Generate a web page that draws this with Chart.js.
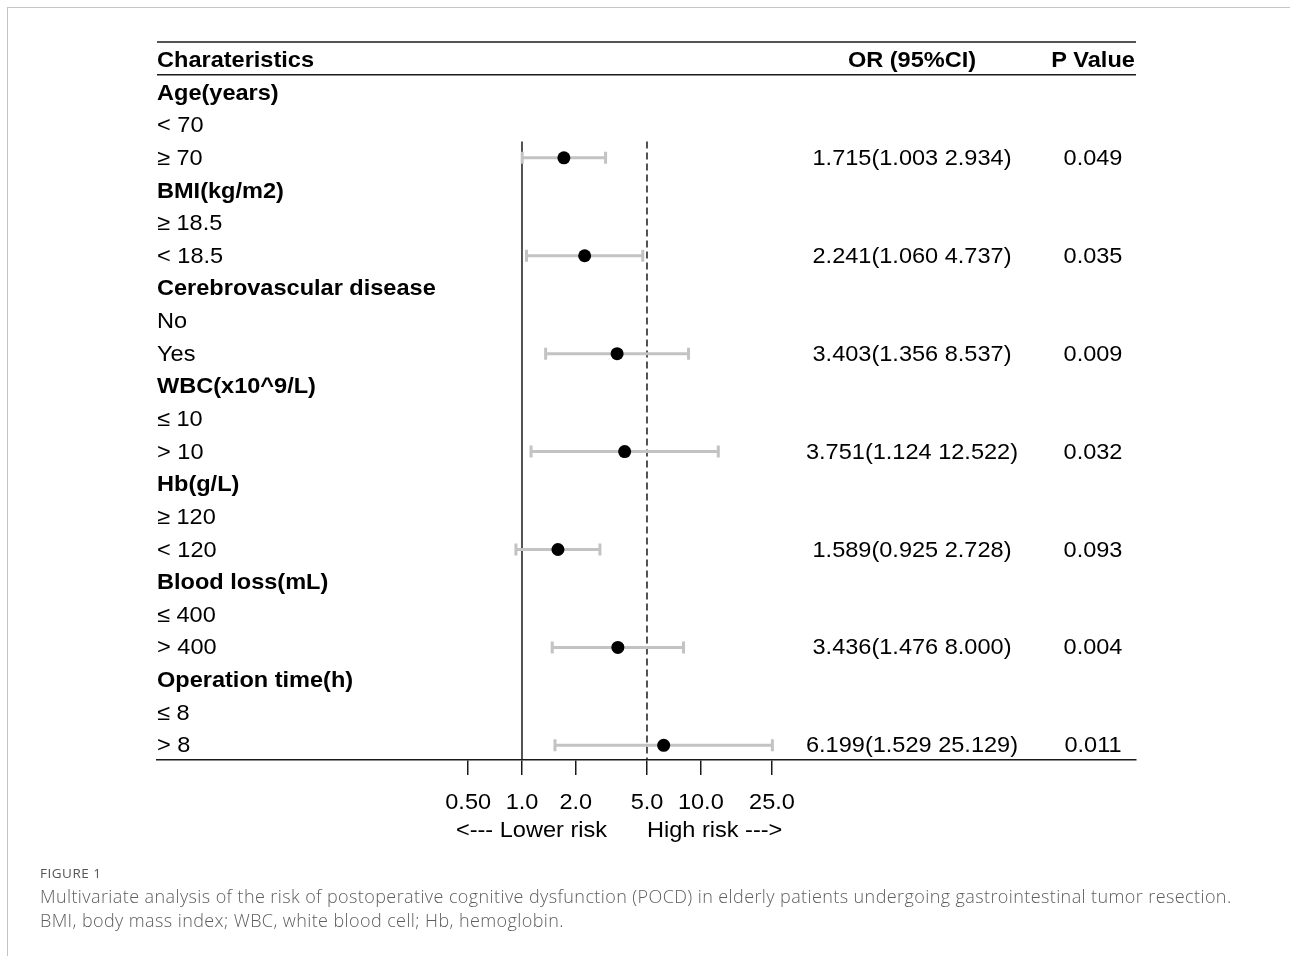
<!DOCTYPE html>
<html>
<head>
<meta charset="utf-8">
<script src="https://cdn.jsdelivr.net/npm/chart.js@4"></script>
<style>
  html, body { margin: 0; padding: 0; background: #fff; }
  #wrap { position: relative; width: 1290px; height: 956px; overflow: hidden; }
  #frame { position: absolute; left: 7px; top: 7px; right: -2px; bottom: -2px;
           border-top: 1.5px solid #c4c4c4; border-left: 1.5px solid #c4c4c4; }
  #chartBox { position: absolute; left: 0; top: 0; width: 1290px; height: 956px; }
  #caption { position: absolute; left: 40px; top: 864px; width: 1245px;
             font-family: "Open Sans", "Noto Sans", sans-serif; color: #5e5e5e; }
  #caption .fig { font-size: 13.5px; color: #555; letter-spacing: 0.5px; margin-bottom: 2px; }
  #caption .txt { font-size: 18px; line-height: 24px; font-weight: 300; letter-spacing: 0.4px; }
</style>
</head>
<body>
<div id="wrap">
  <div id="frame"></div>
  <div id="chartBox"><canvas id="forest"></canvas></div>
  <div id="caption">
    <div class="fig">FIGURE 1</div>
    <div class="txt">Multivariate analysis of the risk of postoperative cognitive dysfunction (POCD) in elderly patients undergoing gastrointestinal tumor resection.<br>BMI, body mass index; WBC, white blood cell; Hb, hemoglobin.</div>
  </div>
</div>
<script>
// datos del forest plot
const groupNames = ['Age(years)', 'BMI(kg/m2)', 'Cerebrovascular disease', 'WBC(x10^9/L)', 'Hb(g/L)', 'Blood loss(mL)', 'Operation time(h)'];
const refLevels = ['< 70', '≥ 18.5', 'No', '≤ 10', '≥ 120', '≤ 400', '≤ 8'];
const riskLevels = ['≥ 70', '< 18.5', 'Yes', '> 10', '< 120', '> 400', '> 8'];
const orValues = [1.715, 2.241, 3.403, 3.751, 1.589, 3.436, 6.199];
const ciLower = [1.003, 1.060, 1.356, 1.124, 0.925, 1.476, 1.529];
const ciUpper = [2.934, 4.737, 8.537, 12.522, 2.728, 8.000, 25.129];
const pValues = ['0.049', '0.035', '0.009', '0.032', '0.093', '0.004', '0.011'];
const tickValues = [0.5, 1, 2, 5, 10, 25];
const tickLabels = ['0.50', '1.0', '2.0', '5.0', '10.0', '25.0'];

const FONT = '"Liberation Sans", Arial, sans-serif';
const SX = 1.07; // el texto original esta algo estirado en horizontal

function drawText(ctx, s, x, y, align, bold) {
    ctx.save();
    ctx.font = (bold ? 'bold ' : '') + '22px ' + FONT;
    ctx.fillStyle = '#000';
    ctx.textAlign = align;
    ctx.textBaseline = 'middle';
    ctx.translate(x, y + 1);
    ctx.scale(SX, 1);
    ctx.fillText(s, 0, 0);
    ctx.restore();
}

// puntos: una fila por grupo, otra por referencia, otra por nivel de riesgo
const points = orValues.map((v, i) => ({ x: v, y: i * 3 + 2 }));

const forestPlugin = {
    id: 'forest',
    beforeDatasetsDraw(chart) {
        const ctx = chart.ctx;
        const x = chart.scales.x, y = chart.scales.y;
        const area = chart.chartArea;

        // lineas de la tabla
        ctx.save();
        ctx.strokeStyle = '#1a1a1a';
        ctx.lineWidth = 1.5;
        [area.top, y.getPixelForValue(-0.55)].forEach(py => {
            ctx.beginPath();
            ctx.moveTo(area.left, py);
            ctx.lineTo(area.right, py);
            ctx.stroke();
        });

        // referencia en OR = 1 y linea discontinua en 5
        const yTop = y.getPixelForValue(1.5);
        ctx.beginPath();
        ctx.moveTo(x.getPixelForValue(1), yTop);
        ctx.lineTo(x.getPixelForValue(1), area.bottom);
        ctx.stroke();
        ctx.setLineDash([7, 4]);
        ctx.beginPath();
        ctx.moveTo(x.getPixelForValue(5), yTop);
        ctx.lineTo(x.getPixelForValue(5), area.bottom);
        ctx.stroke();
        ctx.setLineDash([]);

        // intervalos de confianza
        ctx.strokeStyle = '#c3c3c3';
        ctx.lineWidth = 3;
        orValues.forEach((v, i) => {
            const py = y.getPixelForValue(i * 3 + 2);
            const x0 = x.getPixelForValue(ciLower[i]);
            const x1 = x.getPixelForValue(ciUpper[i]);
            ctx.beginPath();
            ctx.moveTo(x0, py); ctx.lineTo(x1, py);
            ctx.moveTo(x0, py - 6); ctx.lineTo(x0, py + 6);
            ctx.moveTo(x1, py - 6); ctx.lineTo(x1, py + 6);
            ctx.stroke();
        });
        ctx.restore();
    },
    afterDraw(chart) {
        const ctx = chart.ctx;
        const x = chart.scales.x, y = chart.scales.y;
        const area = chart.chartArea;
        const orX = 912, pX = 1093;

        // cabecera
        const hy = y.getPixelForValue(-1);
        drawText(ctx, 'Charateristics', area.left, hy, 'left', true);
        drawText(ctx, 'OR (95%CI)', orX, hy, 'center', true);
        drawText(ctx, 'P Value', pX, hy, 'center', true);

        groupNames.forEach((g, i) => {
            drawText(ctx, g, area.left, y.getPixelForValue(i * 3), 'left', true);
            drawText(ctx, refLevels[i], area.left, y.getPixelForValue(i * 3 + 1), 'left', false);
            const py = y.getPixelForValue(i * 3 + 2);
            drawText(ctx, riskLevels[i], area.left, py, 'left', false);
            const orTxt = orValues[i].toFixed(3) + '(' + ciLower[i].toFixed(3) + ' ' + ciUpper[i].toFixed(3) + ')';
            drawText(ctx, orTxt, orX, py, 'center', false);
            drawText(ctx, pValues[i], pX, py, 'center', false);
        });

        // etiquetas del eje
        tickValues.forEach((v, i) => {
            drawText(ctx, tickLabels[i], x.getPixelForValue(v), area.bottom + 42, 'center', false);
        });
        drawText(ctx, '<--- Lower risk', x.getPixelForValue(1) + 85, area.bottom + 70, 'right', false);
        drawText(ctx, 'High risk --->', x.getPixelForValue(5), area.bottom + 70, 'left', false);
    }
};

const ctx = document.getElementById('forest').getContext('2d');
const forestChart = new Chart(ctx, {
    type: 'scatter',
    data: {
        datasets: [{
            label: 'OR',
            data: points,
            backgroundColor: '#000',
            borderWidth: 0,
            pointRadius: 6.5,
        }]
    },
    options: {
        responsive: true,
        maintainAspectRatio: false,
        animation: false,
        layout: {
            padding: { left: 157, right: 154, top: 42, bottom: 106 }
        },
        plugins: {
            legend: { display: false },
            tooltip: { enabled: false }
        },
        scales: {
            x: {
                type: 'logarithmic',
                bounds: 'data',
                min: 0.0091,
                max: 2713,
                afterBuildTicks: (axis) => {
                    axis.ticks = tickValues.map(v => ({ value: v }));
                },
                afterFit: (scale) => { scale.height = 90; },
                border: { display: true, color: '#1a1a1a', width: 1.5 },
                grid: {
                    display: true,
                    drawOnChartArea: false,
                    drawTicks: true,
                    tickLength: 15,
                    color: '#1a1a1a',
                    lineWidth: 1.5
                },
                ticks: { display: false }
            },
            y: {
                type: 'linear',
                display: false,
                reverse: true,
                min: -1.55,
                max: 20.45
            }
        }
    },
    plugins: [forestPlugin]
});
</script>
</body>
</html>
